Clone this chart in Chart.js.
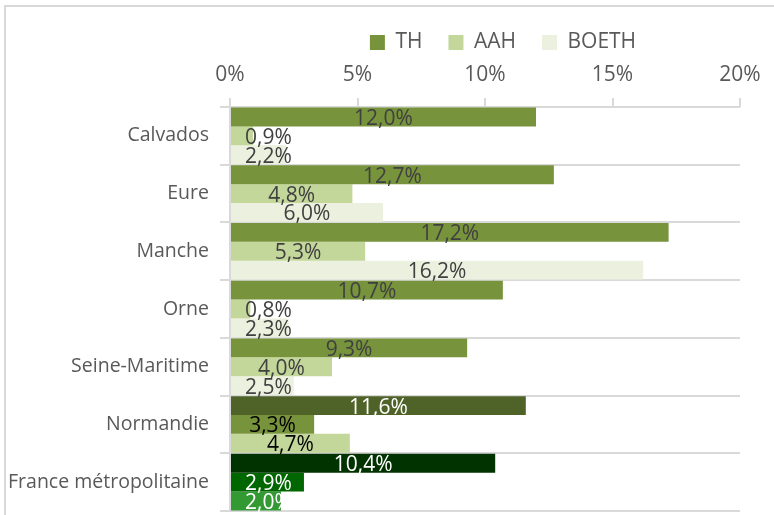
<!DOCTYPE html>
<html>
<head>
<meta charset="utf-8">
<script src="https://cdn.jsdelivr.net/npm/chart.js@4"></script>
<style>
  html, body { margin: 0; padding: 0; background: #fff; }
  #wrap { position: relative; width: 774px; height: 515px; overflow: hidden; }
  #frame { position: absolute; left: 4px; top: 5px; width: 800px; height: 600px;
           border-top: 2px solid #d9d9d9; border-left: 2px solid #d9d9d9; }
  canvas { position: absolute; left: 0; top: 0; }
</style>
</head>
<body>
<div id="wrap">
  <div id="frame"></div>
  <canvas id="chart" width="774" height="515"></canvas>
</div>
<script>
const categories = ['Calvados', 'Eure', 'Manche', 'Orne', 'Seine-Maritime', 'Normandie', 'France métropolitaine'];
const thValues = [12.0, 12.7, 17.2, 10.7, 9.3, 11.6, 10.4];
const aahValues = [0.9, 4.8, 5.3, 0.8, 4.0, 3.3, 2.9];
const boethValues = [2.2, 6.0, 16.2, 2.3, 2.5, 4.7, 2.0];
const tickValues = [0, 5, 10, 15, 20];

// colours per bar (Normandie and France have their own shades)
const thColors = ['#77933c', '#77933c', '#77933c', '#77933c', '#77933c', '#4f6228', '#003300'];
const aahColors = ['#c4d79b', '#c4d79b', '#c4d79b', '#c4d79b', '#c4d79b', '#77933c', '#006600'];
const boethColors = ['#ebf1de', '#ebf1de', '#ebf1de', '#ebf1de', '#ebf1de', '#c4d79b', '#339933'];
const labelColors = [
  ['#404040', '#404040', '#404040', '#404040', '#404040', '#ffffff', '#ffffff'],
  ['#404040', '#404040', '#404040', '#404040', '#404040', '#000000', '#ffffff'],
  ['#404040', '#404040', '#404040', '#404040', '#404040', '#000000', '#ffffff']
];

const family = '"Open Sans", "DejaVu Sans", sans-serif';
const pick = (arr) => (c) => c.type === 'data' ? arr[c.dataIndex] : arr[0];

// value labels drawn in the middle of each bar
const barLabels = {
  id: 'barLabels',
  afterLayout(chart) {
    // legend sits a bit right of the plot centre
    chart.legend.left += 18;
    chart.legend.right += 18;
  },
  afterDatasetsDraw(chart) {
    const ctx = chart.ctx;
    ctx.save();
    ctx.font = '21px ' + family;
    ctx.textAlign = 'center';
    ctx.textBaseline = 'middle';
    chart.data.datasets.forEach((ds, i) => {
      chart.getDatasetMeta(i).data.forEach((bar, j) => {
        const txt = ds.data[j].toFixed(1).replace('.', ',') + '%';
        const w = ctx.measureText(txt).width;
        const cx = Math.max((bar.x + bar.base) / 2, bar.base + 14 + w / 2);
        ctx.fillStyle = labelColors[i][j];
        ctx.fillText(txt, cx, bar.y + 2);
      });
    });
    ctx.restore();
  }
};

new Chart(document.getElementById('chart'), {
  type: 'bar',
  data: {
    labels: categories,
    datasets: [
      { label: 'TH', data: thValues, backgroundColor: pick(thColors) },
      { label: 'AAH', data: aahValues, backgroundColor: pick(aahColors) },
      { label: 'BOETH', data: boethValues, backgroundColor: pick(boethColors) }
    ]
  },
  options: {
    indexAxis: 'y',
    responsive: false,
    animation: false,
    datasets: { bar: { barPercentage: 1, categoryPercentage: 0.98 } },
    layout: { padding: { top: 6, left: 0, right: 34, bottom: 4 } },
    plugins: {
      legend: {
        position: 'top',
        fullSize: false,
        maxHeight: 50,
        labels: { boxWidth: 15, boxHeight: 15, padding: 26, color: '#595959', font: { size: 21, family: family } }
      },
      tooltip: { enabled: false }
    },
    scales: {
      x: {
        position: 'top',
        min: 0,
        max: 20,
        afterBuildTicks: (s) => { s.ticks = tickValues.map(v => ({ value: v })); },
        afterFit: (s) => { s.height = 51; },
        ticks: { callback: (v) => v + '%', color: '#595959', padding: 10, maxRotation: 0, font: { size: 21, family: family } },
        grid: { drawOnChartArea: false, tickLength: 9, color: '#d9d9d9', lineWidth: 2 },
        border: { display: false }
      },
      y: {
        afterFit: (s) => { s.width = 230; s.paddingTop = 0; s.paddingBottom = 0; },
        ticks: { color: '#595959', padding: 11, font: { size: 19.5, family: family } },
        grid: { offset: true, color: '#d9d9d9', lineWidth: 2, tickLength: 10 },
        border: { color: '#d9d9d9', width: 2 }
      }
    }
  },
  plugins: [barLabels]
});
</script>
</body>
</html>
